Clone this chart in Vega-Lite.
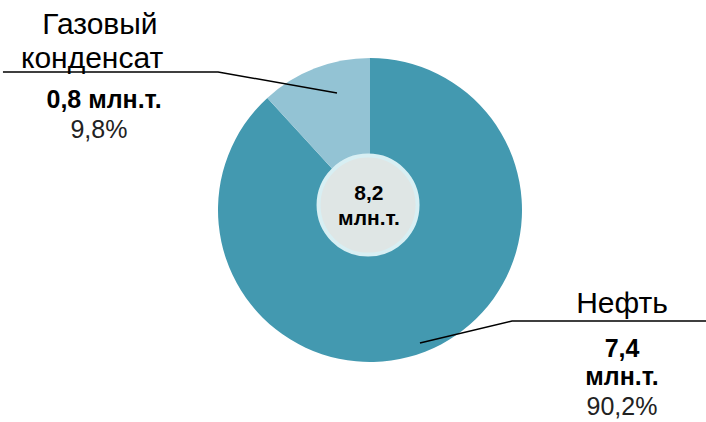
{
  "$schema": "https://vega.github.io/schema/vega-lite/v6.json",
  "autosize": {"type": "none"},
  "width": 672,
  "height": 420,
  "padding": {"left": 34, "right": 0, "top": 0, "bottom": 2},
  "background": "white",
  "config": {"view": {"stroke": null}, "font": "Liberation Sans"},
  "datasets": {
    "pie": [
      {"name": "Нефть", "value": 7.4, "drawnShare": 88.2, "ord": 1},
      {"name": "Газовый конденсат", "value": 0.8, "drawnShare": 11.8, "ord": 2}
    ],
    "center": [{"cx": -0.013, "cy": 0.033}],
    "leaders": [
      {"g": "gas", "i": 1, "x": -2.447, "y": 0.92},
      {"g": "gas", "i": 2, "x": -1.013, "y": 0.92},
      {"g": "gas", "i": 3, "x": -0.22, "y": 0.78},
      {"g": "oil", "i": 1, "x": 0.333, "y": -0.887},
      {"g": "oil", "i": 2, "x": 0.947, "y": -0.74},
      {"g": "oil", "i": 3, "x": 2.24, "y": -0.74}
    ],
    "labels": [
      {"role": "cat", "t": "Газовый", "x": -1.8, "y": 1.173},
      {"role": "cat", "t": "конденсат", "x": -1.853, "y": 0.947},
      {"role": "val", "t": "0,8 млн.т.", "x": -1.773, "y": 0.68},
      {"role": "pct", "t": "9,8%", "x": -1.807, "y": 0.48},
      {"role": "cat", "t": "Нефть", "x": 1.68, "y": -0.687},
      {"role": "val", "t": "7,4", "x": 1.68, "y": -0.98},
      {"role": "val", "t": "млн.т.", "x": 1.68, "y": -1.167},
      {"role": "pct", "t": "90,2%", "x": 1.68, "y": -1.367},
      {"role": "ctr", "t": "8,2", "x": -0.007, "y": 0.067},
      {"role": "ctr", "t": "млн.т.", "x": -0.007, "y": -0.1}
    ]
  },
  "resolve": {"scale": {"color": "independent"}},
  "layer": [
    {
      "data": {"name": "pie"},
      "mark": {"type": "arc", "outerRadius": 152, "stroke": null},
      "encoding": {
        "theta": {"field": "drawnShare", "type": "quantitative", "stack": true},
        "order": {"field": "ord", "type": "quantitative"},
        "color": {
          "field": "name", "type": "nominal", "legend": null,
          "scale": {"domain": ["Нефть", "Газовый конденсат"], "range": ["#4399b0", "#93c3d4"]}
        }
      }
    },
    {
      "data": {"name": "center"},
      "mark": {"type": "point", "shape": "circle", "filled": true, "size": 9801, "fill": "#dfe6e5", "stroke": "#d8eff3", "strokeWidth": 4, "opacity": 1, "strokeOpacity": 1, "fillOpacity": 1},
      "encoding": {
        "x": {"field": "cx", "type": "quantitative", "scale": {"domain": [-2.24, 2.24], "nice": false, "zero": false}, "axis": null},
        "y": {"field": "cy", "type": "quantitative", "scale": {"domain": [-1.4, 1.4], "nice": false, "zero": false}, "axis": null}
      }
    },
    {
      "data": {"name": "leaders"},
      "mark": {"type": "line", "color": "black", "strokeWidth": 1.5},
      "encoding": {
        "x": {"field": "x", "type": "quantitative", "scale": {"domain": [-2.24, 2.24], "nice": false, "zero": false}, "axis": null},
        "y": {"field": "y", "type": "quantitative", "scale": {"domain": [-1.4, 1.4], "nice": false, "zero": false}, "axis": null},
        "detail": {"field": "g", "type": "nominal"},
        "order": {"field": "i", "type": "quantitative"}
      }
    },
    {
      "data": {"name": "labels"},
      "transform": [{"filter": "datum.role === 'cat'"}],
      "mark": {"type": "text", "align": "center", "baseline": "alphabetic", "fontSize": 30, "color": "black"},
      "encoding": {
        "x": {"field": "x", "type": "quantitative", "scale": {"domain": [-2.24, 2.24], "nice": false, "zero": false}, "axis": null},
        "y": {"field": "y", "type": "quantitative", "scale": {"domain": [-1.4, 1.4], "nice": false, "zero": false}, "axis": null},
        "text": {"field": "t"}
      }
    },
    {
      "data": {"name": "labels"},
      "transform": [{"filter": "datum.role === 'val'"}],
      "mark": {"type": "text", "align": "center", "baseline": "alphabetic", "fontSize": 25, "fontWeight": "bold", "color": "black"},
      "encoding": {
        "x": {"field": "x", "type": "quantitative", "scale": {"domain": [-2.24, 2.24], "nice": false, "zero": false}, "axis": null},
        "y": {"field": "y", "type": "quantitative", "scale": {"domain": [-1.4, 1.4], "nice": false, "zero": false}, "axis": null},
        "text": {"field": "t"}
      }
    },
    {
      "data": {"name": "labels"},
      "transform": [{"filter": "datum.role === 'pct'"}],
      "mark": {"type": "text", "align": "center", "baseline": "alphabetic", "fontSize": 25, "color": "#222222"},
      "encoding": {
        "x": {"field": "x", "type": "quantitative", "scale": {"domain": [-2.24, 2.24], "nice": false, "zero": false}, "axis": null},
        "y": {"field": "y", "type": "quantitative", "scale": {"domain": [-1.4, 1.4], "nice": false, "zero": false}, "axis": null},
        "text": {"field": "t"}
      }
    },
    {
      "data": {"name": "labels"},
      "transform": [{"filter": "datum.role === 'ctr'"}],
      "mark": {"type": "text", "align": "center", "baseline": "alphabetic", "fontSize": 21, "fontWeight": "bold", "color": "black"},
      "encoding": {
        "x": {"field": "x", "type": "quantitative", "scale": {"domain": [-2.24, 2.24], "nice": false, "zero": false}, "axis": null},
        "y": {"field": "y", "type": "quantitative", "scale": {"domain": [-1.4, 1.4], "nice": false, "zero": false}, "axis": null},
        "text": {"field": "t"}
      }
    }
  ]
}
